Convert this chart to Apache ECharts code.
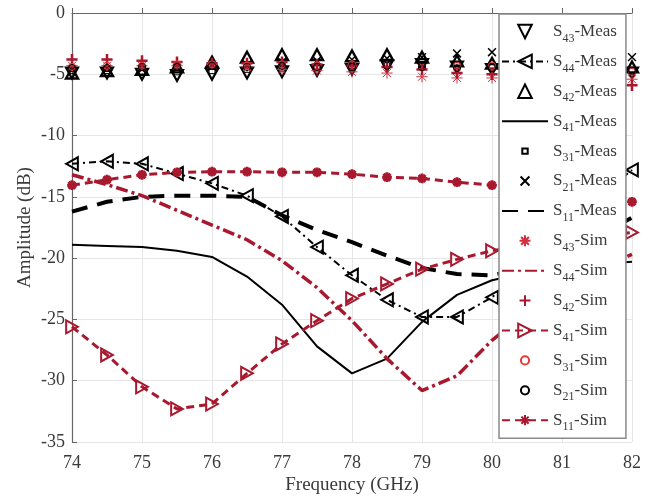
<!DOCTYPE html>
<html>
<head>
<meta charset="utf-8">
<script src="https://cdn.jsdelivr.net/npm/echarts@6/dist/echarts.min.js"></script>
<style>html,body{margin:0;padding:0;background:#fff}#c{width:654px;height:496px}</style>
</head>
<body>
<div id="c"></div>
<script>
var freq = [74,74.5,75,75.5,76,76.5,77,77.5,78,78.5,79,79.5,80,80.5,81,81.5,82];
var xTicks = [74,75,76,77,78,79,80,81,82];
var yTicks = [0,-5,-10,-15,-20,-25,-30,-35];

var s43Meas = [-4.9,-4.9,-5.0,-5.1,-5.0,-4.9,-4.8,-4.7,-4.6,-4.3,-4.2,-4.4,-4.6,-4.7,-4.8,-4.8,-4.9];
var s44Meas = [-12.3,-12.1,-12.3,-13.1,-13.9,-14.9,-16.6,-19.1,-21.4,-23.4,-24.8,-24.8,-23.2,-20.6,-17.8,-15.2,-12.8];
var s42Meas = [-4.9,-4.7,-4.6,-4.4,-4.0,-3.6,-3.4,-3.4,-3.5,-3.4,-3.6,-3.9,-4.1,-4.2,-4.3,-4.3,-4.4];
var s41Meas = [-18.9,-19.0,-19.1,-19.4,-19.9,-21.5,-23.8,-27.2,-29.4,-28.2,-25.2,-23.0,-21.8,-21.2,-20.8,-20.5,-20.3];
var s31Meas = [-4.7,-4.7,-4.8,-4.8,-4.7,-4.6,-4.5,-4.4,-4.3,-4.2,-4.2,-4.3,-4.4,-4.5,-4.6,-4.6,-4.7];
var s21Meas = [-4.6,-4.6,-4.6,-4.5,-4.4,-4.2,-4.0,-3.9,-3.8,-3.7,-3.6,-3.3,-3.2,-3.3,-3.4,-3.5,-3.6];
var s11Meas = [-16.2,-15.4,-15.0,-14.9,-14.9,-15.0,-16.5,-17.7,-18.7,-19.8,-20.8,-21.3,-21.4,-20.8,-19.6,-18.2,-16.7];
var s43Sim = [-4.3,-4.3,-4.3,-4.3,-4.2,-4.4,-4.6,-4.7,-4.8,-4.9,-5.2,-5.3,-5.3,-5.3,-5.3,-5.3,-5.4];
var s44Sim = [-13.2,-14.0,-14.9,-16.1,-17.3,-18.5,-20.2,-22.4,-25.1,-28.2,-30.8,-29.6,-26.7,-24.4,-22.4,-20.9,-19.7];
var s42Sim = [-3.8,-3.8,-3.9,-4.0,-4.1,-4.1,-4.0,-4.2,-4.3,-4.4,-4.6,-4.9,-5.0,-5.2,-5.4,-5.6,-5.9];
var s41Sim = [-25.6,-27.9,-30.5,-32.3,-31.9,-29.4,-27.0,-25.1,-23.3,-22.1,-20.9,-20.1,-19.4,-18.9,-18.5,-18.2,-17.9];
var s31Sim = [-4.4,-4.3,-4.3,-4.2,-4.2,-4.3,-4.2,-4.3,-4.2,-4.3,-4.4,-4.3,-4.3,-4.4,-4.5,-4.6,-4.8];
var s21Sim = [-4.5,-4.5,-4.4,-4.4,-4.3,-4.4,-4.3,-4.4,-4.4,-4.3,-4.4,-4.5,-4.5,-4.5,-4.6,-4.7,-4.7];
var s11Sim = [-14.05,-13.6,-13.2,-13.0,-12.95,-12.95,-13.0,-13.0,-13.15,-13.4,-13.5,-13.8,-14.05,-14.4,-14.8,-15.1,-15.4];

var BLK = '#000000', RED = '#a8182f', TXT = '#3a3a3a';
var FONT = 'Liberation Serif';
var BOX = 'M0,0M20,20';
var SYM = {
  down: 'path://M0,0L10,0L5,9Z',
  up: 'path://M5,0L10,9L0,9Z',
  left: 'path://M0,5L9,0L9,10Z',
  right: 'path://M0,0L9,5L0,10Z',
  square: 'path://' + BOX + 'M6,6L14,6L14,14L6,14Z',
  circle: 'path://' + BOX + 'M4,10A6,6,0,1,1,16,10A6,6,0,1,1,4,10Z',
  cross: 'path://' + BOX + 'M3.5,3.5L16.5,16.5M16.5,3.5L3.5,16.5',
  plus: 'path://' + BOX + 'M10,2L10,18M2,10L18,10',
  star: 'path://' + BOX + 'M10,2L10,18M2,10L18,10M4.3,4.3L15.7,15.7M15.7,4.3L4.3,15.7',
  star2: 'path://' + BOX + 'M10,2.5L10,17.5M2.5,10L17.5,10M4.7,4.7L15.3,15.3M15.3,4.7L4.7,15.3'
};
function pairs(v){ return freq.map(function(f,i){ return [f, v[i]]; }); }
function mk(name, data, color, symbol, size, bw, line){
  return {
    name: name, type: 'line', data: pairs(data),
    symbol: symbol, symbolSize: size, symbolKeepAspect: true,
    showSymbol: true, showAllSymbol: true,
    itemStyle: {color: 'rgba(0,0,0,0)', borderColor: color, borderWidth: bw},
    lineStyle: line ? {color: color, width: line.w, type: line.t} : {color: color, opacity: 0, width: 0},
    emphasis: {disabled: true}
  };
}
var series = [
  mk('S43-Meas', s43Meas, BLK, SYM.down, 12, 2.2),
  mk('S44-Meas', s44Meas, BLK, SYM.left, 13, 2, {w: 2, t: [7,4,2,4]}),
  mk('S42-Meas', s42Meas, BLK, SYM.up, 12, 2.4),
  mk('S41-Meas', s41Meas, BLK, 'none', 1, 0, {w: 2, t: 'solid'}),
  mk('S31-Meas', s31Meas, BLK, SYM.square, 15, 1),
  mk('S21-Meas', s21Meas, BLK, SYM.cross, 12, 1.5),
  mk('S11-Meas', s11Meas, BLK, 'none', 1, 0, {w: 4, t: [16,10]}),
  mk('S43-Sim', s43Sim, '#d03040', SYM.star, 14, 1),
  mk('S44-Sim', s44Sim, RED, 'none', 1, 0, {w: 3.5, t: [12,4,3,4]}),
  mk('S42-Sim', s42Sim, RED, SYM.plus, 14, 2.5),
  mk('S41-Sim', s41Sim, RED, SYM.right, 13, 2, {w: 3, t: [8,5]}),
  mk('S31-Sim', s31Sim, '#e83a3a', SYM.circle, 12, 1),
  mk('S21-Sim', s21Sim, BLK, SYM.circle, 12, 1),
  mk('S11-Sim', s11Sim, RED, SYM.star2, 13, 3, {w: 3, t: [8,5]})
];

var chart = echarts.init(document.getElementById('c'), null, {renderer: 'canvas'});
chart.setOption({
  animation: false,
  backgroundColor: '#fff',
  grid: {left: 72, right: 22, top: 13, bottom: 54, outerBoundsMode: 'none', containLabel: false},
  xAxis: {
    type: 'value', min: xTicks[0], max: xTicks[xTicks.length-1], interval: 1,
    name: 'Frequency (GHz)', nameLocation: 'middle', nameGap: 34, nameMoveOverlap: false,
    nameTextStyle: {fontFamily: FONT, fontSize: 19, color: TXT},
    axisLine: {show: true, lineStyle: {color: '#666', width: 1.2}},
    axisTick: {show: true, inside: true, length: 5, lineStyle: {color: '#666'}},
    axisLabel: {fontFamily: FONT, fontSize: 18, color: TXT, margin: 12},
    splitLine: {show: true, lineStyle: {color: '#e6e6e6', width: 1}}
  },
  yAxis: {
    type: 'value', min: yTicks[yTicks.length-1], max: yTicks[0], interval: 5,
    name: 'Amplitude (dB)', nameLocation: 'middle', nameGap: 37, nameMoveOverlap: false,
    nameTextStyle: {fontFamily: FONT, fontSize: 19, color: TXT},
    axisLine: {show: true, lineStyle: {color: '#666', width: 1.2}},
    axisTick: {show: true, inside: true, length: 5, lineStyle: {color: '#666'}},
    axisLabel: {fontFamily: FONT, fontSize: 18, color: TXT, margin: 7},
    splitLine: {show: true, lineStyle: {color: '#e6e6e6', width: 1}}
  },
  legend: {
    orient: 'vertical', left: 499, top: 14,
    backgroundColor: '#fff', borderColor: '#8a8a8a', borderWidth: 1.5,
    padding: [9, 9, 5, 2],
    itemWidth: 46, itemHeight: 17, itemGap: 8.4,
    data: series.map(function(s){ return s.name; }),
    formatter: function(n){
      var m = n.match(/^S(\d+)(-.*)$/);
      return '{a|S}{b|' + m[1] + '}{a|' + m[2] + '}';
    },
    textStyle: {
      rich: {
        a: {fontFamily: FONT, fontSize: 17, color: TXT, lineHeight: 26},
        b: {fontFamily: FONT, fontSize: 12, color: TXT, lineHeight: 12, verticalAlign: 'bottom'}
      }
    }
  },
  series: series
});
</script>
</body>
</html>
